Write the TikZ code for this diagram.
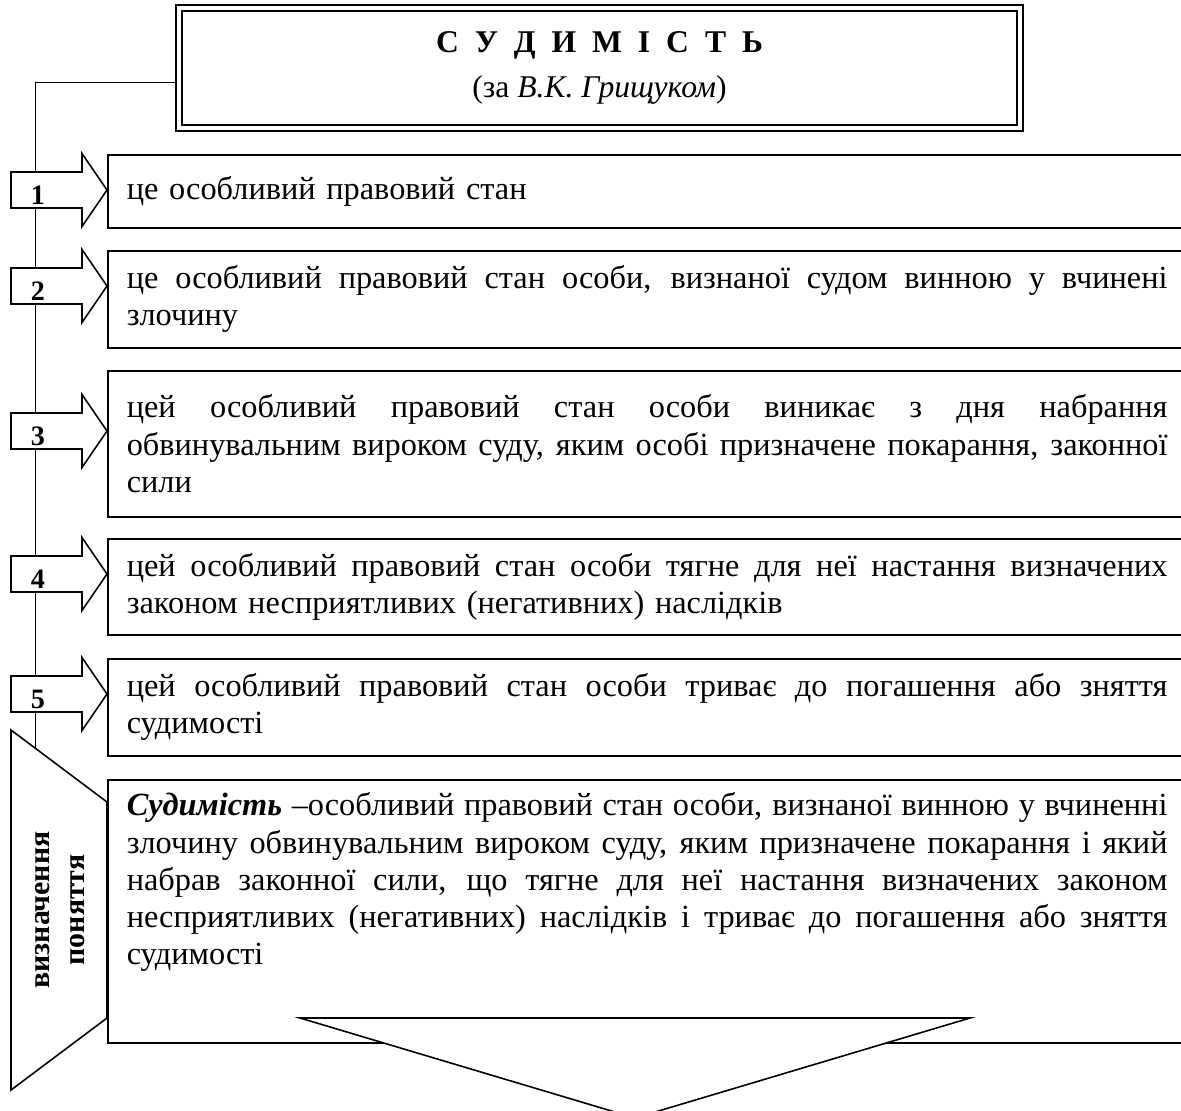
\documentclass[tikz,border=0pt]{standalone}
\usepackage{fontspec}
\setmainfont{Liberation Serif}
\usetikzlibrary{backgrounds}

% one justified line of a box
\newcommand{\jl}[1]{{\spaceskip=0pt\xspaceskip=0pt\makebox[20.82cm][s]{#1}}\\}

\begin{document}
\begin{tikzpicture}[x=0.02cm, y=-0.02cm, line width=0.9pt,
  txtbox/.style={draw, fill=white, anchor=north west, text width=20.82cm,
    inner xsep=0.38cm, inner ysep=0pt, align=left,
    font=\fontsize{18.4}{21.2}\selectfont},
  blockarr/.style={draw, fill=white, line join=miter},
  numlbl/.style={font=\fontsize{16}{18}\selectfont\bfseries, inner sep=0pt}]

  \useasboundingbox (0,0) rectangle (1181,1110);
  \clip (0,0) rectangle (1181,1110);

  % title
  \node[draw, line width=1.2pt, double, double distance=1.9pt, fill=white, minimum width=16.82cm,
        minimum height=2.4cm, align=center, font=\fontsize{18}{21}\selectfont] (title) at (599.5,68)
    {{\bfseries\spaceskip=0pt\makebox[6.54cm][s]{С У Д И М І С Т Ь}}\\[5pt](за \textit{В.К. Грищуком})};

  % spine
  \begin{scope}[on background layer]
    \coordinate (sptop) at (35,82);
    \coordinate (spbot) at (35,748);
    \draw (title.west |- sptop) -- (sptop) -- (spbot);
  \end{scope}

  % numbered arrows
  \foreach \c/\n in {190/1, 286/2, 431/3, 574/4, 694/5}{
    \draw[blockarr] (11,\c-18) -- (82,\c-18) -- (82,\c-36.5) -- (107,\c)
      -- (82,\c+36.5) -- (82,\c+18) -- (11,\c+18) -- cycle;
    \node[numlbl] (n\n) at (38,\c+5) {\n};
  }

  % statements
  \node[txtbox, minimum height=1.46cm] (b1) at (107,154) {це особливий правовий стан};
  \node[txtbox, minimum height=1.94cm] (b2) at (107,250)
    {\jl{це особливий правовий стан особи, визнаної судом винною у вчинені}злочину};
  \node[txtbox, minimum height=2.92cm] (b3) at (107,370)
    {\jl{цей особливий правовий стан особи виникає з дня набрання}\jl{обвинувальним вироком суду, яким особі призначене покарання, законної}сили};
  \node[txtbox, minimum height=1.92cm] (b4) at (107,538)
    {\jl{цей особливий правовий стан особи тягне для неї настання визначених}законом несприятливих (негативних) наслідків};
  \node[txtbox, minimum height=1.94cm] (b5) at (107,658)
    {\jl{цей особливий правовий стан особи триває до погашення або зняття}судимості};

  % definition
  \draw[fill=white, line join=miter] (11,730) -- (107,802) -- (107,1018) -- (11,1090) -- cycle;
  \node[rotate=90, align=center, font=\fontsize{17}{20}\selectfont\bfseries] (defn) at (60,910)
    {визначення\\поняття};
  \node[txtbox, text height=0.72cm, text depth=4.54cm] (b6) at (107,779)
    {\jl{\textbf{\textit{Судимість}} –особливий правовий стан особи, визнаної винною у вчиненні}\jl{злочину обвинувальним вироком суду, яким призначене покарання і який}\jl{набрав законної сили, що тягне для неї настання визначених законом}\jl{несприятливих (негативних) наслідків і триває до погашення або зняття}судимості};

  % down arrow
  \draw[fill=white, line join=miter] (300,1018) -- (970,1018) -- (635,1118) -- cycle;
\end{tikzpicture}
\end{document}
